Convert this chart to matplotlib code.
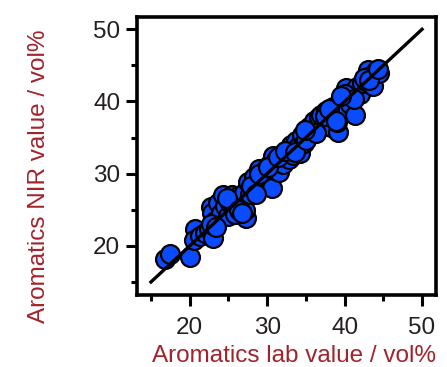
import matplotlib
matplotlib.use("Agg")
import matplotlib.pyplot as plt
from matplotlib.ticker import MultipleLocator

# lab reference vs NIR predicted, vol%
lab = [16.8, 17.4, 20.1, 20.7, 20.6, 21.3, 22.0, 22.5, 23.0, 22.8, 22.9, 23.3, 23.6, 24.0,
       24.3, 24.6, 24.9, 25.2, 25.4, 25.6, 25.8, 26.0, 26.2, 26.5, 26.8, 27.0, 27.3, 27.1,
       27.5, 27.8, 28.0, 28.3, 28.6, 28.9, 29.2, 29.5, 29.7, 30.0, 30.3, 30.6, 30.8, 31.0,
       31.2, 31.5, 31.8, 32.1, 32.5, 32.8, 33.1, 33.4, 33.7, 34.0, 34.2, 34.5, 34.8, 35.1,
       35.4, 35.8, 36.1, 36.4, 36.7, 37.0, 37.3, 37.6, 37.9, 38.2, 38.5, 38.8, 39.2, 39.0,
       39.5, 39.8, 40.2, 40.5, 40.7, 41.0, 41.3, 41.6, 42.0, 42.3, 42.7, 43.0, 43.3, 43.7,
       44.0, 44.5,
       22.7, 23.4, 24.8, 25.9, 26.4, 27.9, 29.0, 30.1, 31.4, 32.3, 33.6, 35.0, 36.3, 37.5,
       38.0, 38.9, 40.0, 41.2, 42.5, 43.2, 44.3, 26.7, 28.5, 34.9, 39.6]
nir = [18.2, 18.9, 18.4, 22.4, 20.8, 21.4, 21.8, 22.3, 21.1, 25.4, 24.5, 23.4, 25.9, 24.6,
       27.1, 25.5, 24.2, 26.0, 27.0, 26.0, 24.8, 25.3, 26.9, 25.7, 26.2, 27.3, 23.8, 25.0,
       28.9, 27.2, 28.2, 29.5, 27.8, 30.6, 28.6, 29.8, 30.5, 29.6, 31.2, 28.0, 32.4, 30.5,
       31.9, 30.2, 32.6, 31.3, 33.0, 32.1, 34.0, 32.6, 34.5, 33.7, 32.8, 35.4, 34.2, 35.8,
       36.4, 35.6, 37.3, 36.0, 37.9, 38.1, 36.8, 38.7, 37.6, 36.5, 39.2, 38.3, 35.8, 37.2,
       40.0, 39.3, 41.8, 40.8, 39.7, 41.3, 38.1, 42.0, 41.0, 42.5, 42.8, 44.4, 43.5, 42.1,
       44.2, 43.9,
       23.0, 22.6, 26.6, 24.4, 25.0, 28.3, 30.0, 30.9, 32.3, 33.2, 33.0, 34.6, 35.6, 38.0,
       39.0, 37.3, 41.1, 40.3, 43.2, 43.0, 44.5, 24.6, 27.2, 36.1, 40.8]
line_x = [15, 50]
line_y = [15, 50]

plt.rcParams['font.family'] = ['Liberation Sans', 'DejaVu Sans']
red = '#A3232B'
txt = '#231F20'

fig = plt.figure(figsize=(4.47, 3.67), dpi=100)
ax = fig.add_axes([137/447, 1-295/367, 299/447, 278/367])

ax.scatter(lab, nir, s=185, color='#0A4BFF', edgecolors='black', linewidths=1.6, zorder=2)
ax.plot(line_x, line_y, color='black', lw=2.4, zorder=3)

ax.set_xlim(13.2, 51.8)
ax.set_ylim(13.2, 51.7)
ax.xaxis.set_minor_locator(MultipleLocator(5))
ax.yaxis.set_minor_locator(MultipleLocator(5))
ax.set_xticks([20, 30, 40, 50])
ax.set_yticks([20, 30, 40, 50])

for s in ax.spines.values():
    s.set_linewidth(2.6)
ax.tick_params(which='major', length=8, width=2.2, labelsize=17.5, labelcolor=txt)
ax.tick_params(which='minor', length=4.5, width=2.2)
ax.tick_params(axis='x', which='major', pad=8)
ax.tick_params(axis='y', which='major', pad=4)

fig.text(294/447, 5/367, 'Aromatics lab value / vol%', color=red, fontsize=17.5,
         ha='center', va='baseline')
fig.text(39/447, 1-176/367, 'Aromatics NIR value / vol%', color=red, fontsize=17.5,
         ha='center', va='center', rotation=90)

fig.savefig('out.png', dpi=100)
